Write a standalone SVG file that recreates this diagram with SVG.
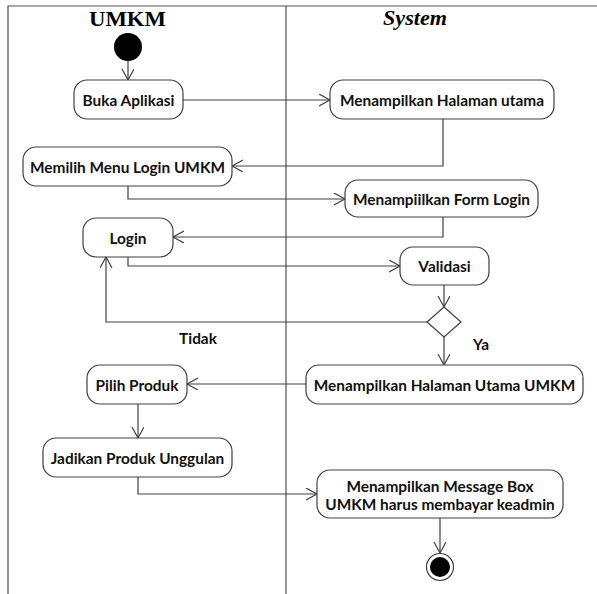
<svg xmlns="http://www.w3.org/2000/svg" width="597" height="594" viewBox="0 0 597 594">
<style>
  .act { fill: #ffffff; stroke: #404040; stroke-width: 1.2; }
  .lbl { font-family: Lato, "Open Sans", sans-serif; font-weight: bold; font-size: 15.4px; fill: #111111; text-anchor: middle; dominant-baseline: central; }
  .edge { fill: none; stroke: #404040; stroke-width: 1.2; marker-end: url(#open); }
  .lane { fill: none; stroke: #505050; stroke-width: 1.2; }
  .title { font-family: "Liberation Serif", serif; font-weight: bold; font-size: 21px; fill: #000; text-anchor: middle; }
</style>
<defs>
  <marker id="open" markerUnits="userSpaceOnUse" markerWidth="14" markerHeight="14" refX="11" refY="6" orient="auto">
    <path d="M0,0 L11,6 L0,12" fill="none" stroke="#404040" stroke-width="1.2"/>
  </marker>
</defs>
<rect width="597" height="594" fill="#ffffff"/>

<!-- swimlanes -->
<g id="lanes">
  <path class="lane" d="M8,594 V6 H597"/>
  <path class="lane" d="M286,6 V594"/>
  <text class="title" x="127.5" y="26" textLength="77" lengthAdjust="spacingAndGlyphs">UMKM</text>
  <text class="title" x="415" y="25" font-size="20" font-style="italic" textLength="64" lengthAdjust="spacingAndGlyphs">System</text>
</g>

<!-- connectors -->
<g id="connectors">
  <path class="edge" d="M128,61 V80"/>
  <path class="edge" d="M183,100 H330"/>
  <path class="edge" d="M443,119 V166 H232"/>
  <path class="edge" d="M128,186 V199 H345"/>
  <path class="edge" d="M443,217 V237 H173"/>
  <path class="edge" d="M128,257 V266 H400"/>
  <path class="edge" d="M444,285 V307"/>
  <path class="edge" d="M428,322 H106 V257"/>
  <path class="edge" d="M444,337 V365"/>
  <path class="edge" d="M306,384 H187"/>
  <path class="edge" d="M138,404 V438"/>
  <path class="edge" d="M138,477 V494 H317"/>
  <path class="edge" d="M440,518 V553"/>
  <text class="lbl" x="198" y="338">Tidak</text>
  <text class="lbl" x="481" y="344">Ya</text>
</g>

<!-- nodes -->
<g id="start">
  <circle cx="128" cy="47" r="14" fill="#000"/>
</g>
<g id="buka-aplikasi">
  <rect class="act" x="74" y="80" width="109" height="39" rx="13"/>
  <text class="lbl" x="128.5" y="99.5">Buka Aplikasi</text>
</g>
<g id="halaman-utama">
  <rect class="act" x="330" y="80" width="224" height="39" rx="13"/>
  <text class="lbl" x="442" y="99.5">Menampilkan Halaman utama</text>
</g>
<g id="memilih-menu">
  <rect class="act" x="23" y="147" width="209" height="39" rx="13"/>
  <text class="lbl" x="127.5" y="166.5">Memilih Menu Login UMKM</text>
</g>
<g id="form-login">
  <rect class="act" x="345" y="180" width="193" height="37" rx="13"/>
  <text class="lbl" x="441.5" y="198.5">Menampiilkan Form Login</text>
</g>
<g id="login">
  <rect class="act" x="83" y="218" width="90" height="39" rx="13"/>
  <text class="lbl" x="128" y="237.5">Login</text>
</g>
<g id="validasi">
  <rect class="act" x="400" y="247" width="89" height="38" rx="13"/>
  <text class="lbl" x="444.5" y="266">Validasi</text>
</g>
<g id="decision">
  <path class="act" d="M444,307 L461,322 L444,337 L427,322 Z"/>
</g>
<g id="halaman-utama-umkm">
  <rect class="act" x="306" y="365" width="277" height="39" rx="13"/>
  <text class="lbl" x="444.5" y="384.5">Menampilkan Halaman Utama UMKM</text>
</g>
<g id="pilih-produk">
  <rect class="act" x="87" y="365" width="100" height="39" rx="13"/>
  <text class="lbl" x="137" y="384.5">Pilih Produk</text>
</g>
<g id="jadikan-unggulan">
  <rect class="act" x="43" y="438" width="189" height="39" rx="13"/>
  <text class="lbl" x="137.5" y="457.5">Jadikan Produk Unggulan</text>
</g>
<g id="message-box">
  <rect class="act" x="317" y="470" width="246" height="48" rx="13"/>
  <text class="lbl" x="440" y="486">Menampilkan Message Box</text>
  <text class="lbl" x="440" y="503.5">UMKM harus membayar keadmin</text>
</g>
<g id="end">
  <circle cx="440" cy="567" r="13.5" fill="#fff" stroke="#404040" stroke-width="1.2"/>
  <circle cx="440" cy="567" r="10" fill="#000"/>
</g>
</svg>
